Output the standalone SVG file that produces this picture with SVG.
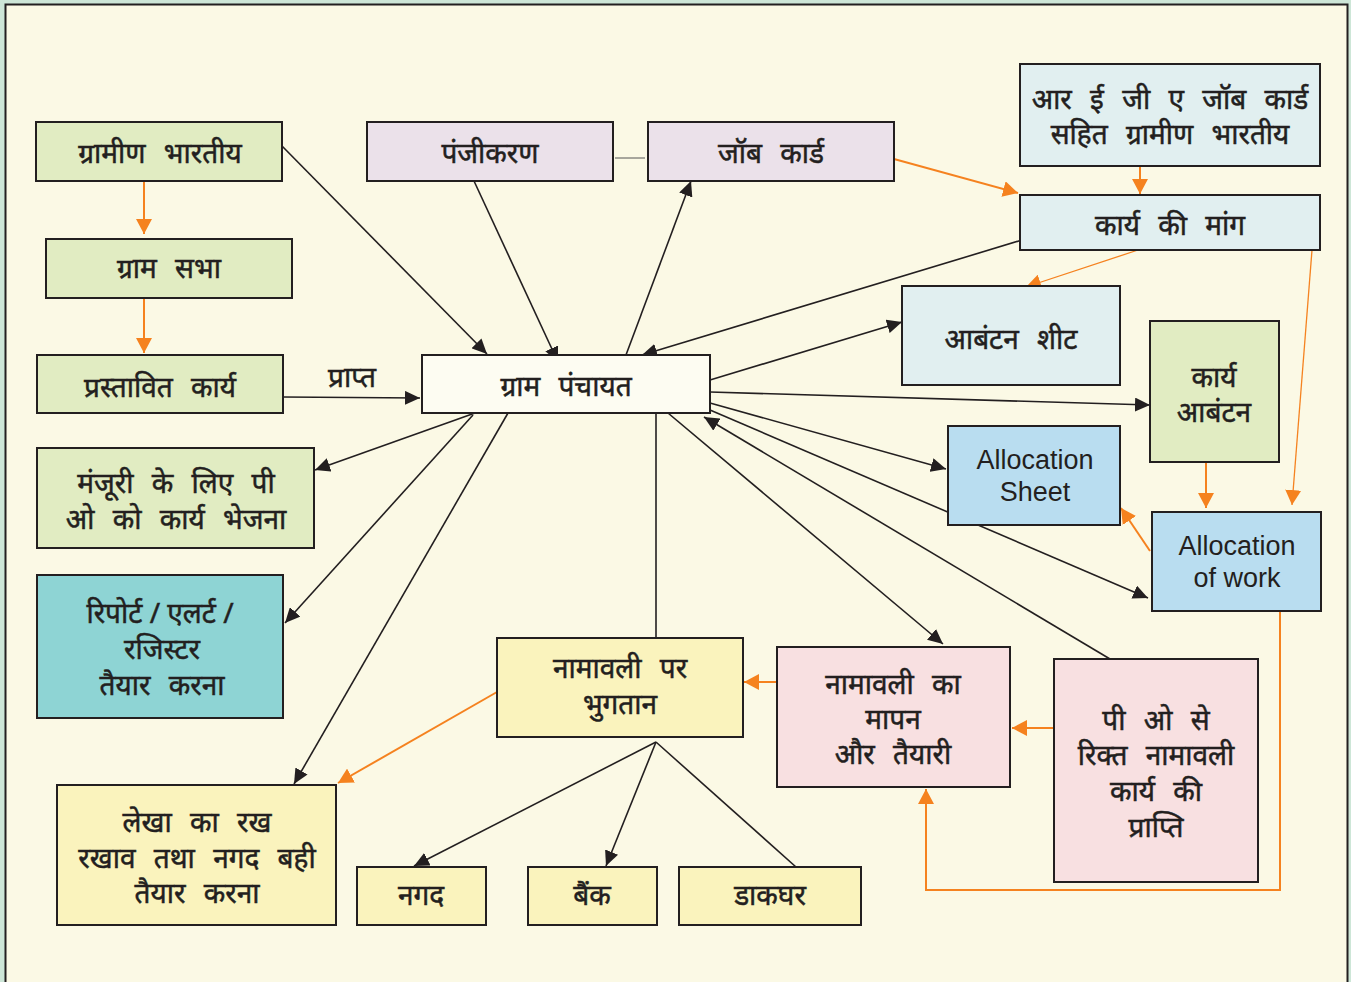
<svg xmlns="http://www.w3.org/2000/svg" width="1351" height="982" viewBox="0 0 1351 982">
<defs>
<style>
.bx{stroke:#231f20;stroke-width:2}
.g{fill:#e1ecc2}.lv{fill:#ebe1ea}.lb{fill:#e1eff0}.bl{fill:#b9ddf0}.tl{fill:#8ed4d4}.y{fill:#faf3bd}.pk{fill:#f8e0e1}.w{fill:#fdfcf2}
.t{font-family:"Noto Sans","Noto Sans Devanagari","Lohit Devanagari",sans-serif;font-size:28px;fill:#231f20;stroke:#231f20;stroke-width:0.5;text-anchor:middle;word-spacing:11px}
.e{font-family:"Liberation Sans",Arial,sans-serif;font-size:27px;fill:#231f20;text-anchor:middle}
.k{stroke:#231f20;stroke-width:1.6;fill:none}
.o{stroke:#f5821f;stroke-width:2;fill:none}
.ot{stroke:#f5821f;stroke-width:1.3;fill:none}
</style>
<marker id="ak" markerUnits="userSpaceOnUse" markerWidth="16" markerHeight="14" refX="15" refY="7" orient="auto"><path d="M0,0 L15,7 L0,14 z" fill="#231f20"/></marker>
<marker id="ao" markerUnits="userSpaceOnUse" markerWidth="16" markerHeight="16" refX="15" refY="8" orient="auto"><path d="M0,0 L15,8 L0,16 z" fill="#f5821f"/></marker>
</defs>
<rect x="0" y="0" width="1351" height="982" fill="#cde6d7"/>
<rect x="5.5" y="4.5" width="1342" height="990" fill="#fbf9e5" stroke="#231f20" stroke-width="2"/>

<g id="connectors">
<line class="o" x1="144" y1="181" x2="144" y2="234" marker-end="url(#ao)"/>
<line class="o" x1="144" y1="298" x2="144" y2="353" marker-end="url(#ao)"/>
<line class="k" x1="283" y1="397" x2="420" y2="398" marker-end="url(#ak)"/>
<line class="k" x1="282" y1="146" x2="487" y2="354" marker-end="url(#ak)"/>
<line class="k" x1="474" y1="181" x2="558" y2="362" marker-end="url(#ak)"/>
<line class="k" x1="626" y1="355" x2="691" y2="181" marker-end="url(#ak)"/>
<line x1="615" y1="158" x2="645" y2="158" stroke="#555" stroke-width="1"/>
<line class="o" x1="894" y1="159" x2="1018" y2="193" marker-end="url(#ao)"/>
<line class="o" x1="1140" y1="166" x2="1140" y2="194" marker-end="url(#ao)"/>
<line class="k" x1="1022" y1="240" x2="642" y2="355" marker-end="url(#ak)"/>
<line class="ot" x1="1138" y1="250" x2="1026" y2="287" marker-end="url(#ao)"/>
<line class="ot" x1="1312" y1="250" x2="1292" y2="505" marker-end="url(#ao)"/>
<line class="k" x1="710" y1="380" x2="902" y2="322" marker-end="url(#ak)"/>
<line class="k" x1="710" y1="392" x2="1150" y2="405" marker-end="url(#ak)"/>
<line class="k" x1="710" y1="403" x2="946" y2="469" marker-end="url(#ak)"/>
<line class="k" x1="710" y1="410" x2="1148" y2="598" marker-end="url(#ak)"/>
<line class="k" x1="1110" y1="659" x2="704" y2="417" marker-end="url(#ak)"/>
<line class="k" x1="668" y1="413" x2="943" y2="644" marker-end="url(#ak)"/>
<line class="k" x1="656" y1="413" x2="656" y2="637"/>
<line class="k" x1="475" y1="413" x2="315" y2="470" marker-end="url(#ak)"/>
<line class="k" x1="473" y1="415" x2="285" y2="623" marker-end="url(#ak)"/>
<line class="k" x1="508" y1="413" x2="294" y2="784" marker-end="url(#ak)"/>
<line class="o" x1="497" y1="692" x2="338" y2="783" marker-end="url(#ao)"/>
<line class="o" x1="777" y1="682" x2="744" y2="682" marker-end="url(#ao)"/>
<line class="o" x1="1054" y1="728" x2="1012" y2="728" marker-end="url(#ao)"/>
<polyline class="o" points="1280,611 1280,890 926,890 926,789" marker-end="url(#ao)"/>
<line class="o" x1="1206" y1="462" x2="1206" y2="508" marker-end="url(#ao)"/>
<line class="o" x1="1150" y1="551" x2="1121" y2="508" marker-end="url(#ao)"/>
<line class="k" x1="656" y1="742" x2="414" y2="866" marker-end="url(#ak)"/>
<line class="k" x1="656" y1="742" x2="606" y2="866" marker-end="url(#ak)"/>
<line class="k" x1="656" y1="742" x2="796" y2="867"/>
<text class="t" x="352" y="387">प्राप्त</text>
</g>

<g id="n-gramin"><rect class="bx g" x="36" y="122" width="246" height="59"/><text class="t" x="160" y="163">ग्रामीण भारतीय</text></g>
<g id="n-gramsabha"><rect class="bx g" x="46" y="239" width="246" height="59"/><text class="t" x="169" y="278">ग्राम सभा</text></g>
<g id="n-prastavit"><rect class="bx g" x="37" y="355" width="246" height="58"/><text class="t" x="160" y="397">प्रस्तावित कार्य</text></g>
<g id="n-panjikaran"><rect class="bx lv" x="367" y="122" width="246" height="59"/><text class="t" x="490" y="163">पंजीकरण</text></g>
<g id="n-jobcard"><rect class="bx lv" x="648" y="122" width="246" height="59"/><text class="t" x="771" y="163">जॉब कार्ड</text></g>
<g id="n-rega"><rect class="bx lb" x="1020" y="64" width="300" height="102"/><text class="t" x="1170" y="109">आर ई जी ए जॉब कार्ड</text><text class="t" x="1170" y="144">सहित ग्रामीण भारतीय</text></g>
<g id="n-mang"><rect class="bx lb" x="1020" y="195" width="300" height="55"/><text class="t" x="1170" y="235">कार्य की मांग</text></g>
<g id="n-abantansheet"><rect class="bx lb" x="902" y="286" width="218" height="99"/><text class="t" x="1011" y="349">आबंटन शीट</text></g>
<g id="n-karyaabantan"><rect class="bx g" x="1150" y="321" width="129" height="141"/><text class="t" x="1214" y="387">कार्य</text><text class="t" x="1214" y="422">आबंटन</text></g>
<g id="n-panchayat"><rect class="bx w" x="422" y="355" width="288" height="58"/><text class="t" x="566" y="396">ग्राम पंचायत</text></g>
<g id="n-allocsheet"><rect class="bx bl" x="948" y="426" width="172" height="99"/><text class="e" x="1035" y="469">Allocation</text><text class="e" x="1035" y="501">Sheet</text></g>
<g id="n-allocwork"><rect class="bx bl" x="1152" y="512" width="169" height="99"/><text class="e" x="1237" y="555">Allocation</text><text class="e" x="1237" y="587">of work</text></g>
<g id="n-manjuri"><rect class="bx g" x="37" y="448" width="277" height="100"/><text class="t" x="176" y="493">मंजूरी के लिए पी</text><text class="t" x="176" y="529">ओ को कार्य भेजना</text></g>
<g id="n-report"><rect class="bx tl" x="37" y="575" width="246" height="143"/><text class="t" x="160" y="623" style="word-spacing:0px">रिपोर्ट / एलर्ट /</text><text class="t" x="162" y="659">रजिस्टर</text><text class="t" x="162" y="695">तैयार करना</text></g>
<g id="n-bhugtan"><rect class="bx y" x="497" y="638" width="246" height="99"/><text class="t" x="620" y="678">नामावली पर</text><text class="t" x="620" y="714">भुगतान</text></g>
<g id="n-mapan"><rect class="bx pk" x="777" y="647" width="233" height="140"/><text class="t" x="893" y="694">नामावली का</text><text class="t" x="893" y="729">मापन</text><text class="t" x="893" y="764">और तैयारी</text></g>
<g id="n-rikt"><rect class="bx pk" x="1054" y="659" width="204" height="223"/><text class="t" x="1156" y="730">पी ओ से</text><text class="t" x="1156" y="765">रिक्त नामावली</text><text class="t" x="1156" y="801">कार्य की</text><text class="t" x="1156" y="837">प्राप्ति</text></g>
<g id="n-lekha"><rect class="bx y" x="57" y="785" width="279" height="140"/><text class="t" x="197" y="832">लेखा का रख</text><text class="t" x="197" y="868">रखाव तथा नगद बही</text><text class="t" x="197" y="903">तैयार करना</text></g>
<g id="n-nagad"><rect class="bx y" x="357" y="867" width="129" height="58"/><text class="t" x="421" y="905">नगद</text></g>
<g id="n-bank"><rect class="bx y" x="528" y="867" width="129" height="58"/><text class="t" x="592" y="905">बैंक</text></g>
<g id="n-dakghar"><rect class="bx y" x="679" y="867" width="182" height="58"/><text class="t" x="770" y="905">डाकघर</text></g>
</svg>
